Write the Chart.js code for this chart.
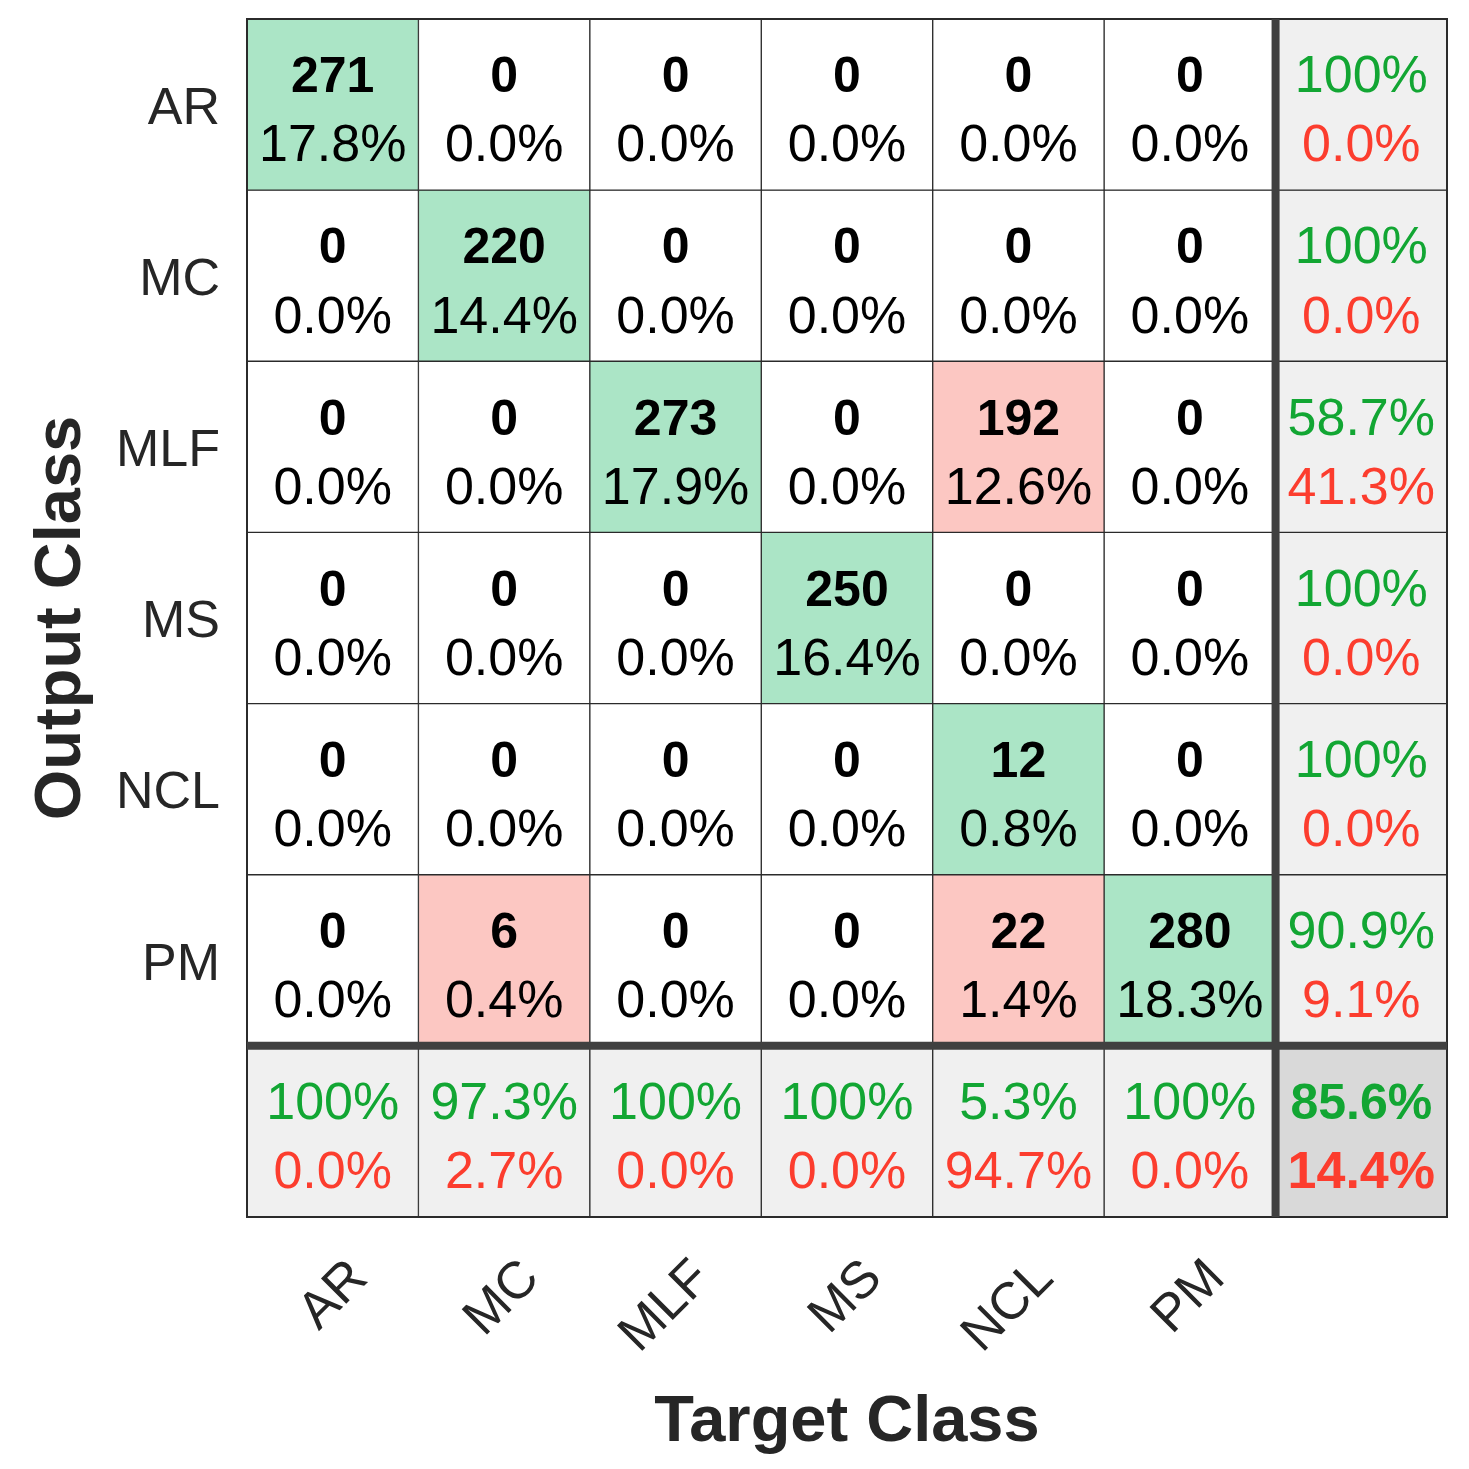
<!DOCTYPE html>
<html>
<head>
<meta charset="utf-8">
<script src="https://cdn.jsdelivr.net/npm/chart.js@4.4.1/dist/chart.umd.min.js"></script>
<style>
  body { margin: 0; background: #fff; }
  #wrap { width: 1469px; height: 1469px; }
</style>
</head>
<body>
<div id="wrap"><canvas id="confChart" width="1469" height="1469"></canvas></div>
<script>
const classes = ['AR', 'MC', 'MLF', 'MS', 'NCL', 'PM'];

// rows = output class, columns = target class
const counts = [
  [271, 0, 0, 0, 0, 0],
  [0, 220, 0, 0, 0, 0],
  [0, 0, 273, 0, 192, 0],
  [0, 0, 0, 250, 0, 0],
  [0, 0, 0, 0, 12, 0],
  [0, 6, 0, 0, 22, 280]
];
const cellPct = [
  [17.8, 0.0, 0.0, 0.0, 0.0, 0.0],
  [0.0, 14.4, 0.0, 0.0, 0.0, 0.0],
  [0.0, 0.0, 17.9, 0.0, 12.6, 0.0],
  [0.0, 0.0, 0.0, 16.4, 0.0, 0.0],
  [0.0, 0.0, 0.0, 0.0, 0.8, 0.0],
  [0.0, 0.4, 0.0, 0.0, 1.4, 18.3]
];
// right column (per output class) and bottom row (per target class)
const rowGood = [100, 100, 58.7, 100, 100, 90.9];
const rowBad = [0.0, 0.0, 41.3, 0.0, 0.0, 9.1];
const colGood = [100, 97.3, 100, 100, 5.3, 100];
const colBad = [0.0, 2.7, 0.0, 0.0, 94.7, 0.0];
const overallGood = 85.6;
const overallBad = 14.4;

const FONT = "'Liberation Sans', Arial, sans-serif";
const GREEN_CELL = '#ABE5C6';
const RED_CELL = '#FCC7C2';
const SUM_CELL = '#F0F0F0';
const TOTAL_CELL = '#D9D9D9';
const GOOD = '#12A633';
const BAD = '#FC3D2E';

function fmt(v) {
  return v === 100 ? '100%' : v.toFixed(1) + '%';
}

function cellColor(i, j) {
  if (i === 6 && j === 6) return TOTAL_CELL;
  if (i === 6 || j === 6) return SUM_CELL;
  if (counts[i][j] === 0) return '#FFFFFF';
  return i === j ? GREEN_CELL : RED_CELL;
}

// one floating-bar dataset per row, 7 rows incl. the summary row
const datasets = [];
for (let i = 0; i < 7; i++) {
  const data = [];
  const colors = [];
  for (let j = 0; j < 7; j++) {
    data.push([i, i + 1]);
    colors.push(cellColor(i, j));
  }
  datasets.push({
    label: 'row' + i,
    data: data,
    backgroundColor: colors,
    borderColor: '#2b2b2b',
    borderWidth: 1,
    borderSkipped: false,
    barPercentage: 1,
    categoryPercentage: 1
  });
}

const cellText = {
  id: 'cellText',
  afterDatasetsDraw(chart) {
    const { ctx, chartArea, scales: { x, y } } = chart;
    const cellH = Math.abs(y.getPixelForValue(1) - y.getPixelForValue(0));
    ctx.save();

    // frame
    ctx.strokeStyle = '#2b2b2b';
    ctx.lineWidth = 2;
    ctx.strokeRect(chartArea.left, chartArea.top, chartArea.right - chartArea.left, chartArea.bottom - chartArea.top);

    // thick separators before summary row / column
    const sepX = (x.getPixelForValue(5) + x.getPixelForValue(6)) / 2;
    const sepY = y.getPixelForValue(6);
    ctx.strokeStyle = '#404040';
    ctx.lineWidth = 8;
    ctx.beginPath();
    ctx.moveTo(sepX, chartArea.top);
    ctx.lineTo(sepX, chartArea.bottom);
    ctx.moveTo(chartArea.left, sepY);
    ctx.lineTo(chartArea.right, sepY);
    ctx.stroke();

    ctx.textAlign = 'center';
    ctx.textBaseline = 'alphabetic';
    for (let i = 0; i < 7; i++) {
      for (let j = 0; j < 7; j++) {
        const cx = x.getPixelForValue(j);
        const cy = y.getPixelForValue(i + 0.5);
        let top, bottom;
        let topColor = '#000', botColor = '#000';
        let topBold = false, botBold = false;
        if (i < 6 && j < 6) {
          top = String(counts[i][j]);
          bottom = fmt(cellPct[i][j]);
          topBold = true;
        } else if (i < 6) {
          top = fmt(rowGood[i]); bottom = fmt(rowBad[i]);
          topColor = GOOD; botColor = BAD;
        } else if (j < 6) {
          top = fmt(colGood[j]); bottom = fmt(colBad[j]);
          topColor = GOOD; botColor = BAD;
        } else {
          top = fmt(overallGood); bottom = fmt(overallBad);
          topColor = GOOD; botColor = BAD;
          topBold = true; botBold = true;
        }
        ctx.font = (topBold ? 'bold 50px ' : '52px ') + FONT;
        ctx.fillStyle = topColor;
        ctx.fillText(top, cx, cy - 0.072 * cellH);
        ctx.font = (botBold ? 'bold 52px ' : '52px ') + FONT;
        ctx.fillStyle = botColor;
        ctx.fillText(bottom, cx, cy + 0.332 * cellH);
      }
    }
    ctx.restore();
  }
};

const ctx = document.getElementById('confChart').getContext('2d');
const confChart = new Chart(ctx, {
  type: 'bar',
  data: {
    labels: classes.concat(['']),
    datasets: datasets
  },
  options: {
    responsive: false,
    animation: false,
    layout: { padding: { top: 19, right: 22, left: 0, bottom: 0 } },
    plugins: {
      legend: { display: false },
      tooltip: { enabled: false }
    },
    scales: {
      x: {
        stacked: true,
        grid: { display: false, drawTicks: false },
        border: { display: false },
        ticks: {
          autoSkip: false,
          minRotation: 45,
          maxRotation: 45,
          padding: 31,
          labelOffset: 27,
          color: '#262626',
          font: { family: FONT, size: 52 }
        },
        title: {
          display: true,
          text: 'Target Class',
          color: '#262626',
          font: { family: FONT, size: 65, weight: 'bold' },
          padding: { top: 0, bottom: 7 }
        },
        afterFit(scale) {
          scale.height = 252;
          scale.paddingLeft = 0;
          scale.paddingRight = 0;
        }
      },
      y: {
        stacked: false,
        min: 0,
        max: 7,
        reverse: true,
        grid: { display: false, drawTicks: false },
        border: { display: false },
        afterBuildTicks(axis) {
          axis.ticks = classes.map((c, i) => ({ value: i + 0.5 }));
        },
        ticks: {
          padding: 27,
          labelOffset: 5,
          color: '#262626',
          font: { family: FONT, size: 52 },
          callback: (value, index) => classes[index]
        },
        title: {
          display: true,
          text: 'Output Class',
          color: '#262626',
          font: { family: FONT, size: 65, weight: 'bold' },
          padding: { top: 23, bottom: 0 }
        },
        afterFit(scale) {
          scale.width = 247;
          scale.paddingTop = 0;
          scale.paddingBottom = 0;
        }
      }
    }
  },
  plugins: [cellText]
});
</script>
</body>
</html>
